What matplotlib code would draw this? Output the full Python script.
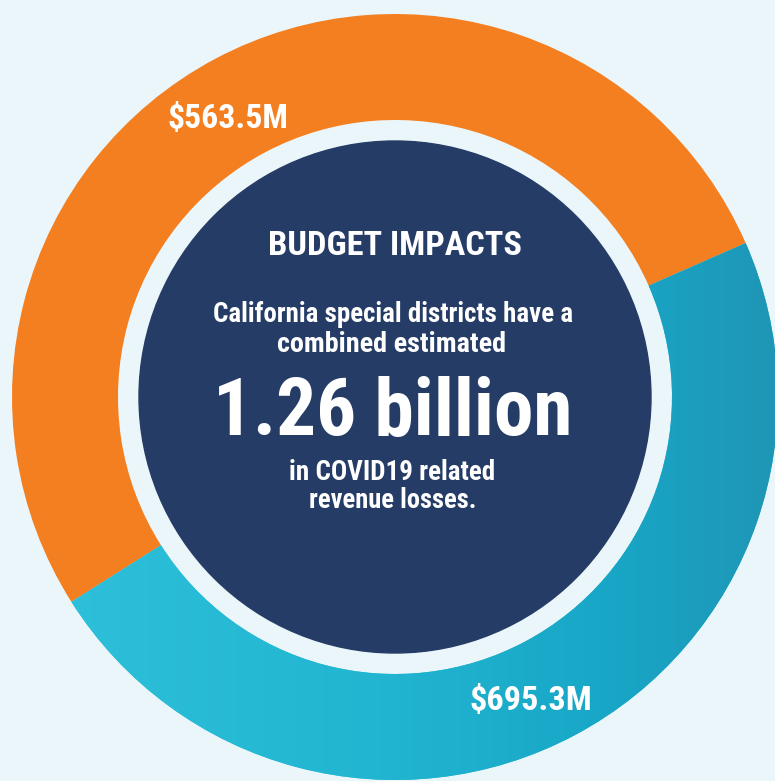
import matplotlib
matplotlib.use('Agg')
import matplotlib.pyplot as plt
import numpy as np
from matplotlib.patches import Circle
from matplotlib.colors import LinearSegmentedColormap
from matplotlib import font_manager

# данные: подписи и доли кольца (доли)
labels = ['$563.5M', '$695.3M']
shares = [52.4, 47.6]
colors = ['#f47f20', '#2bbcd8']

title = 'BUDGET IMPACTS'
lines_top = ['California special districts have a', 'combined estimated']
big = '1.26 billion'
lines_bottom = ['in COVID19 related', 'revenue losses.']

W, H = 775, 781
bg = '#ebf6fb'
navy = '#253d66'
cx, cy = 395, H - 397
r_out, r_in, r_navy = 383, 277, 256

# узкий шрифт, если найдётся, иначе Roboto
names = {f.name for f in font_manager.fontManager.ttflist}
condensed = {f.name for f in font_manager.fontManager.ttflist
             if f.stretch in ('condensed', 'semi-condensed', 'extra-condensed', 600, 500, 300)}
family = 'Roboto'
for cand in ['Liberation Sans Narrow', 'Roboto Condensed', 'Open Sans Condensed',
             'DejaVu Sans Condensed', 'Noto Sans Condensed']:
    if cand in names:
        family = cand
        break
plt.rcParams['font.family'] = [family, 'DejaVu Sans']

fig = plt.figure(figsize=(W / 100, H / 100), dpi=100, facecolor=bg)
ax = fig.add_axes([0, 0, 1, 1])
ax.set_facecolor(bg)

wedges, _ = ax.pie(shares, colors=colors, startangle=23.7, counterclock=True,
                   radius=r_out, center=(cx, cy),
                   wedgeprops=dict(width=r_out - r_in, linewidth=0))

# градиент на синем сегменте
cmap = LinearSegmentedColormap.from_list('blue', [(0, '#2ec0da'), (0.45, '#21b5d1'),
                                                  (0.78, '#18a6c6'), (1, '#1f96b6')])
grad = np.linspace(0, 1, 256).reshape(1, -1)
im = ax.imshow(grad, cmap=cmap, extent=(60, W, 0, H), aspect='auto', zorder=2)
im.set_clip_path(wedges[1])

ax.add_patch(Circle((cx, cy), r_navy, color=navy, zorder=3))

ax.set_xlim(0, W)
ax.set_ylim(0, H)
ax.set_aspect('equal')
ax.axis('off')

renderer = fig.canvas.get_renderer()


def put(x, y, s, width):
    # подгонка размера шрифта под ширину строки на картинке
    t = ax.text(x, y, s, fontsize=20, color='white', ha='center', va='baseline',
                fontweight='bold', zorder=4)
    w = t.get_window_extent(renderer).width
    t.set_fontsize(20 * width / w)
    return t


put(228, H - 128, labels[0], 121)
put(531, H - 710, labels[1], 123)
put(395, H - 255, title, 254)
put(393, H - 322, lines_top[0], 359)
put(392, H - 352, lines_top[1], 228)
put(393, H - 435, big, 360)
put(392, H - 480, lines_bottom[0], 205)
put(393, H - 508, lines_bottom[1], 167)

plt.savefig('out.png', dpi=100, facecolor=bg)
